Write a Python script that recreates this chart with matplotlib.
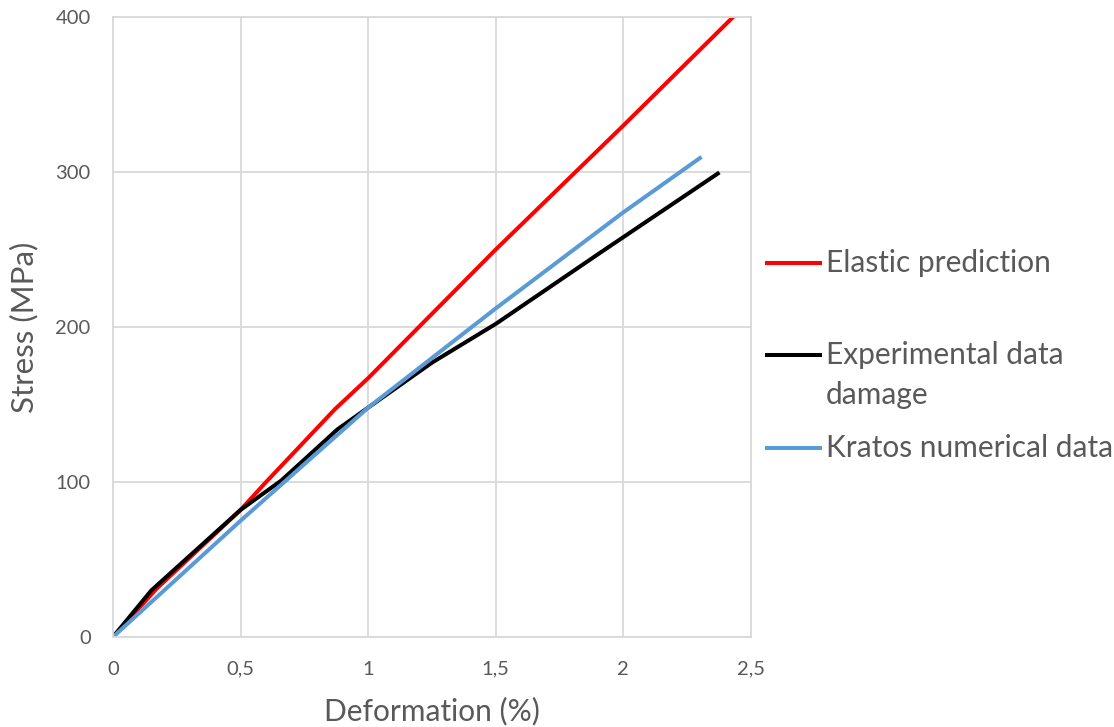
import matplotlib.pyplot as plt
from matplotlib.lines import Line2D
from matplotlib.ticker import FuncFormatter

# strain (%) / stress (MPa)
elastic_x = [0, 0.17, 0.5, 0.55, 0.6, 0.87, 1.0, 1.5, 2.0, 2.43]
elastic_y = [0, 31, 82, 91, 100, 147, 167, 250, 330, 400]

exp_x = [0, 0.15, 0.5, 0.66, 0.88, 1.0, 1.25, 1.5, 1.91, 2.37]
exp_y = [0, 30, 82, 101, 134, 148, 177, 202, 248, 299]

kratos_x = [0, 0.5, 1.0, 1.5, 2.0, 2.3]
kratos_y = [0, 75, 148, 212, 274, 309]

series_names = ["Elastic prediction", "Experimental data\ndamage", "Kratos numerical data"]
series_colors = ["#ff0000", "black", "#5b9bd5"]

gray = "#595959"
plt.rcParams["font.family"] = ["Lato", "DejaVu Sans"]

fig = plt.figure(figsize=(11.14, 7.27), dpi=100)
ax = fig.add_axes([0.1014, 0.1238, 0.5727, 0.8528])

ax.plot(elastic_x, elastic_y, color=series_colors[0], lw=2.9)
ax.plot(exp_x, exp_y, color=series_colors[1], lw=2.9)
ax.plot(kratos_x, kratos_y, color=series_colors[2], lw=2.9)

ax.set_xlim(0, 2.5)
ax.set_ylim(0, 400)
ax.set_xticks([0, 0.5, 1, 1.5, 2, 2.5])
ax.set_yticks([0, 100, 200, 300, 400])
ax.xaxis.set_major_formatter(FuncFormatter(lambda v, p: f"{v:g}".replace(".", ",")))
ax.grid(True, color="#d9d9d9", lw=1.3)
ax.set_axisbelow(True)
for s in ax.spines.values():
    s.set_color("#d9d9d9")
    s.set_linewidth(1.3)
ax.tick_params(length=0, labelsize=14.5, colors=gray)
ax.tick_params(axis="x", pad=17)
ax.tick_params(axis="y", pad=16)

ax.set_xlabel("Deformation (%)", fontsize=21.5, color=gray, labelpad=14)
ax.set_ylabel("Stress (MPa)", fontsize=22.5, color=gray, labelpad=12)

# legend drawn by hand so the handle sits on the first text line (as in Excel)
legend_y = [263, 355, 448]
H = 727.0
for name, col, yp in zip(series_names, series_colors, legend_y):
    yf = (H - yp) / H
    fig.add_artist(Line2D([767 / 1114, 820 / 1114], [yf, yf], color=col, lw=2.9,
                          transform=fig.transFigure))
    for i, line in enumerate(name.split("\n")):
        fig.text(826 / 1114, (H - yp - 40 * i) / H, line, fontsize=21.5, color=gray,
                 va="center", ha="left")

fig.savefig("out.png", dpi=100)
